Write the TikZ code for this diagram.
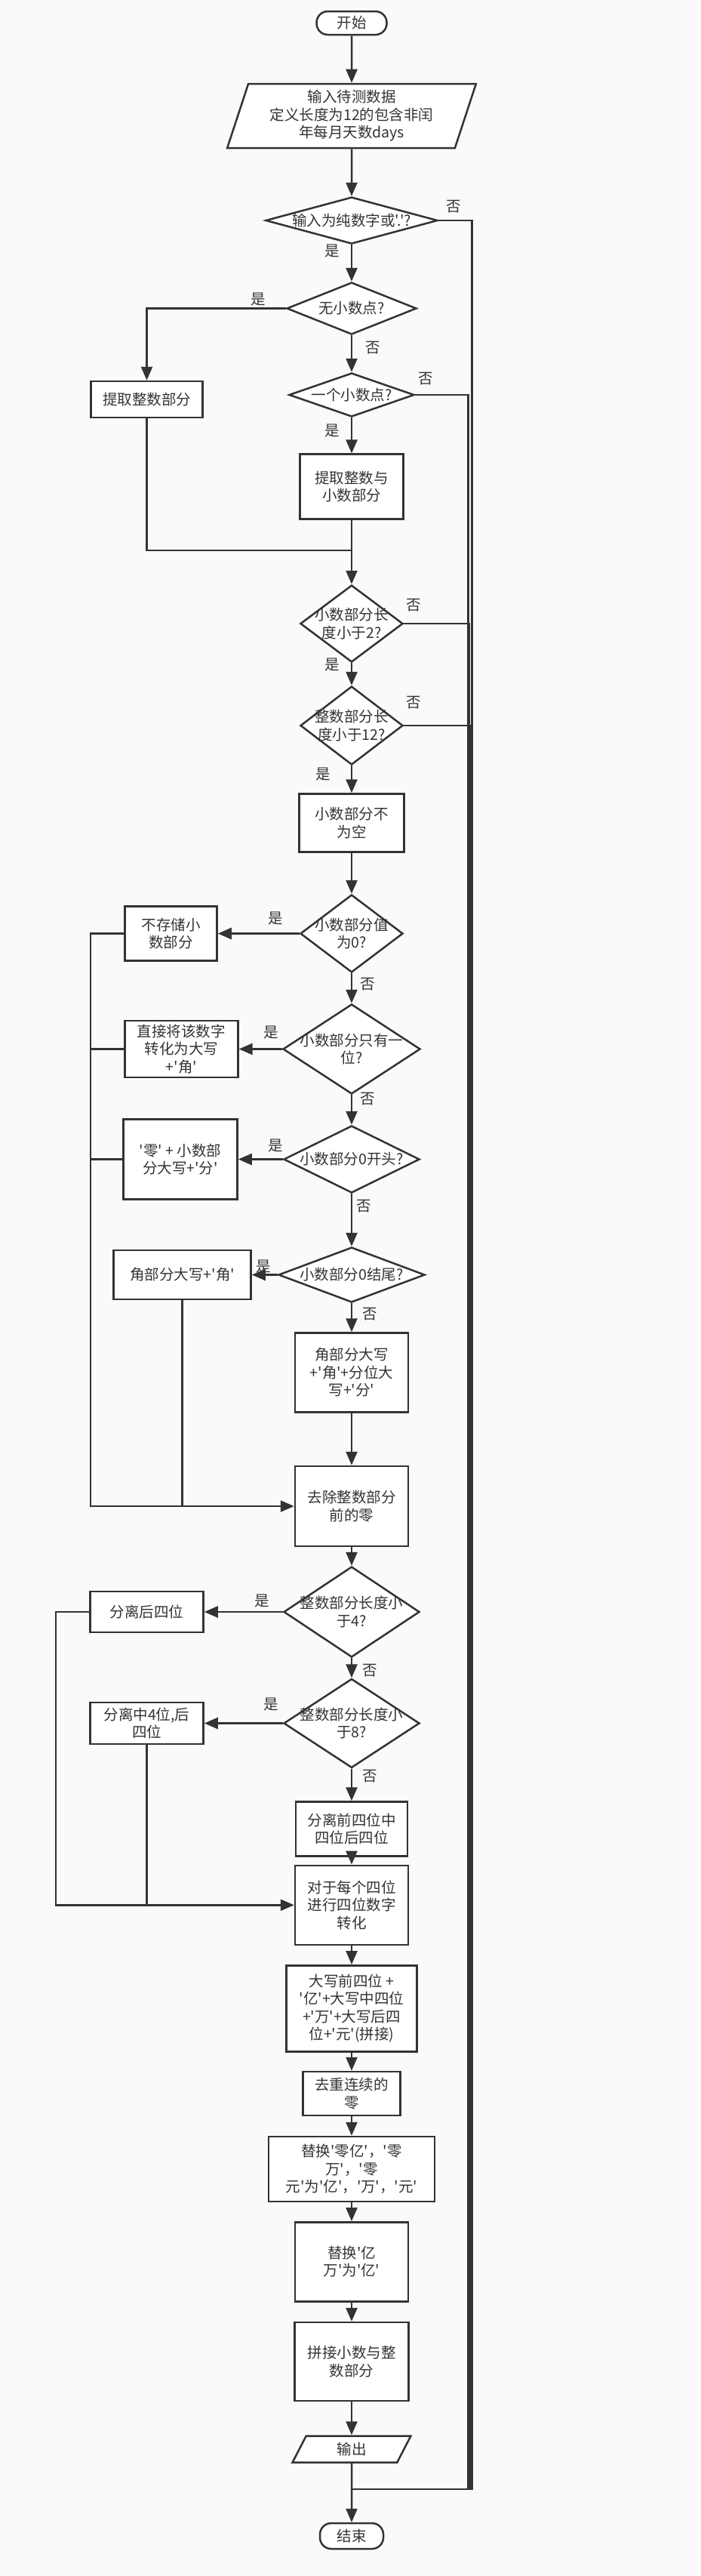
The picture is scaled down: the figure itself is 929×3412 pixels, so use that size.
\documentclass[tikz,border=0pt]{standalone}
\usepackage{fontspec}
\setmainfont{Noto Sans CJK SC}[Ligatures=TeXOff]
\usetikzlibrary{arrows.meta,shapes.geometric}
\definecolor{ink}{HTML}{333333}
\definecolor{paper}{HTML}{FAFAFA}

\begin{document}
\begin{tikzpicture}[x=0.5pt,y=-0.5pt,
    font=\fontsize{9.75pt}{11.75pt}\selectfont, text=ink,
    term/.style={draw=ink,line width=1.25pt,fill=white,rounded corners=7.5pt,inner sep=0pt},
    io/.style={trapezium,trapezium left angle=72,trapezium right angle=108,
               trapezium stretches=true,draw=ink,line width=1.25pt,fill=white,
               align=center,inner sep=0pt},
    box/.style={rectangle,draw=ink,line width=1.25pt,fill=white,align=center,inner sep=0pt},
    ask/.style={diamond,draw=ink,line width=1.25pt,fill=white,inner sep=0pt},
    asktext/.style={align=center,inner sep=0pt},
    lab/.style={inner sep=0pt}]
            \fill[paper] (0,0) rectangle (929,3412);
            \useasboundingbox (0,0) rectangle (929,3412);

            % main column
            \node[term,minimum width=46.5pt,minimum height=15.5pt] (s) at (466,30.5) {开始};
            \node[io,minimum width=165pt,minimum height=42.5pt] (in) at (466,153.5)
                {输入待测数据\\定义长度为12的包含非闰\\年每月天数days};
            \node[ask,minimum width=114pt,minimum height=31pt,
                  label={[asktext]center:{输入为纯数字或'.'?}}] (q1) at (466,292) {};
            \node[ask,minimum width=86pt,minimum height=34.5pt,
                  label={[asktext]center:{无小数点?}}] (q2) at (466,408.5) {};
            \node[ask,minimum width=83pt,minimum height=29pt,
                  label={[asktext]center:{一个小数点?}}] (q3) at (466,523) {};
            \node[box,minimum width=68.5pt,minimum height=43pt] (p2) at (466,644.7) {提取整数与\\小数部分};
            \node[ask,minimum width=68pt,minimum height=51pt,
                  label={[asktext]center:{小数部分长\\度小于2?}}] (q4) at (466,826) {};
            \node[ask,minimum width=68pt,minimum height=52pt,
                  label={[asktext]center:{整数部分长\\度小于12?}}] (q5) at (466,961) {};
            \node[box,minimum width=69.5pt,minimum height=38.5pt] (p3) at (466,1090) {小数部分不\\为空};
            \node[ask,minimum width=68pt,minimum height=51.5pt,
                  label={[asktext]center:{小数部分值\\为0?}}] (q6) at (466,1236.5) {};
            \node[ask,minimum width=91pt,minimum height=59.5pt,
                  label={[asktext]center:{小数部分只有一\\位?}}] (q7) at (466,1389.5) {};
            \node[ask,minimum width=90pt,minimum height=44.5pt,
                  label={[asktext]center:{小数部分0开头?}}] (q8) at (466,1535.5) {};
            \node[ask,minimum width=97pt,minimum height=36.5pt,
                  label={[asktext]center:{小数部分0结尾?}}] (q9) at (466,1688.5) {};
            \node[box,minimum width=75pt,minimum height=52.5pt] (p8) at (466,1818) {角部分大写\\+'角'+分位大\\写+'分'};
            \node[box,minimum width=75pt,minimum height=53pt] (p9) at (466,1995) {去除整数部分\\前的零};
            \node[ask,minimum width=90pt,minimum height=60pt,
                  label={[asktext]center:{整数部分长度小\\于4?}}] (q10) at (466,2135) {};
            \node[ask,minimum width=90pt,minimum height=59pt,
                  label={[asktext]center:{整数部分长度小\\于8?}}] (q11) at (466,2282.5) {};
            \node[box,minimum width=74pt,minimum height=36pt] (p12) at (466,2422.5) {分离前四位中\\四位后四位};
            \node[box,minimum width=75pt,minimum height=52.5pt] (p13) at (466,2523.3) {对于每个四位\\进行四位数字\\转化};
            \node[box,minimum width=86.5pt,minimum height=57pt] (p14) at (466,2660.3)
                {大写前四位 +\\'亿'+大写中四位\\+'万'+大写后四\\位+'元'(拼接)};
            \node[box,minimum width=64.5pt,minimum height=29pt] (p15) at (466,2773) {去重连续的\\零};
            \node[box,minimum width=110pt,minimum height=43pt] (p16) at (466,2873)
                {替换'零亿'，'零\\万'，'零\\元'为'亿'，'万'，'元'};
            \node[box,minimum width=75pt,minimum height=52.5pt] (p17) at (466,2995.8) {替换'亿\\万'为'亿'};
            \node[box,minimum width=75.5pt,minimum height=52pt] (p18) at (466,3128) {拼接小数与整\\数部分};
            \node[io,minimum width=78.5pt,minimum height=17.5pt] (out) at (466,3244) {输出};
            \node[term,minimum width=42pt,minimum height=17pt] (e) at (466,3359) {结束};

            % side boxes
            \node[box,minimum width=74pt,minimum height=24pt] (p1) at (194.5,529) {提取整数部分};
            \node[box,minimum width=61pt,minimum height=36pt] (p4) at (226.5,1236.5) {不存储小\\数部分};
            \node[box,minimum width=75pt,minimum height=37.5pt] (p5) at (240.4,1389.5) {直接将该数字\\转化为大写\\+'角'};
            \node[box,minimum width=75.5pt,minimum height=53pt] (p6) at (239,1535.5) {'零' + 小数部\\分大写+'分'};
            \node[box,minimum width=91pt,minimum height=32.5pt] (p7) at (241.6,1688.5) {角部分大写+'角'};
            \node[box,minimum width=75pt,minimum height=27pt] (p10) at (194.5,2135) {分离后四位};
            \node[box,minimum width=75pt,minimum height=27.5pt] (p11) at (194.5,2282.5) {分离中4位,后\\四位};

            \coordinate (lx) at (120,0);
            \coordinate (lx2) at (74,0);
            \coordinate (j1) at (466,729);
            \coordinate (bar) at (623,3297);
            \coordinate (jb) at (466,3297);

            \begin{scope}[>={Triangle[length=9pt,width=7.5pt]}, ink, line width=1.25pt]
                \draw[->] (s) -- (in);
                \draw[->] (in) -- (q1);
                \draw[->] (q1) -- node[lab,pos=0.18,left=7.6pt] {是} (q2);
                \draw[->] (q2.west) -| node[lab,pos=0.1,above=1pt] {是} (p1.north);
                \draw[->] (q2) -- node[lab,pos=0.33,right=8.4pt] {否} (q3);
                \draw[->] (q3) -- node[lab,pos=0.36,left=7.6pt] {是} (p2);
                \draw (p1.south) |- (j1);
                \draw[->] (p2) -- (q4);
                \draw[->] (q4) -- node[lab,pos=0.06,left=7.6pt] {是} (q5);
                \draw[->] (q5) -- node[lab,pos=0.31,left=13.6pt] {是} (p3);
                \draw[->] (p3) -- (q6);
                \draw[->] (q6) -- node[lab,pos=0.29,above=5pt] {是} (p4);
                \draw[->] (q6) -- node[lab,pos=0.36,right=4.9pt] {否} (q7);
                \draw[->] (q7) -- node[lab,pos=0.25,above=6pt] {是} (p5);
                \draw[->] (q7) -- node[lab,pos=0.14,right=4.9pt] {否} (q8);
                \draw[->] (q8) -- node[lab,pos=0.16,above=4pt] {是} (p6);
                \draw[->] (q8) -- node[lab,pos=0.24,right=2.6pt] {否} (q9);
                \draw[->] (q9) -- node[lab,pos=0.55,above=0.5pt] {是} (p7);
                \draw[->] (q9) -- node[lab,pos=0.37,right=6.4pt] {否} (p8);
                \draw[->] (p8) -- (p9);

                % fraction results back to the integer part
                \draw[->] (p4.west) -| (lx |- p9.west) -- (p9.west);
                \draw (p5.west) -- (lx |- p5.west);
                \draw (p6.west) -- (lx |- p6.west);
                \draw (p7.south) -- (p7.south |- p9.west);

                \draw[->] (p9) -- (q10);
                \draw[->] (q10) -- node[lab,pos=0.26,above=2.2pt] {是} (p10);
                \draw[->] (q10) -- node[lab,pos=0.63,right=6.4pt] {否} (q11);
                \draw[->] (q11) -- node[lab,pos=0.15,above=7.5pt] {是} (p11);
                \draw[->] (q11) -- node[lab,pos=0.23,right=6.4pt] {否} (p12);
                \draw[->] (p12) -- (p13);
                \draw[->] (p10.west) -| (lx2 |- p13.west) -- (p13.west);
                \draw (p11.south) -- (p11.south |- p13.west);

                \draw[->] (p13) -- (p14);
                \draw[->] (p14) -- (p15);
                \draw[->] (p15) -- (p16);
                \draw[->] (p16) -- (p17);
                \draw[->] (p17) -- (p18);
                \draw[->] (p18) -- (out);
                \draw[->] (out) -- (e);

                % invalid input goes straight to the end
                \draw (q1.east) -| node[lab,pos=0.23,above=4.5pt] {否} ([xshift=1.25pt]bar) -- (jb);
                \draw (q3.east) -| node[lab,pos=0.1,above=5.7pt] {否} ([xshift=-1.25pt]bar) -- (jb);
                \draw (q4.east) -| node[lab,pos=0.074,above=7.2pt] {否} ([xshift=-0.5pt]bar) -- (jb);
                \draw (q5.east) -| node[lab,pos=0.073,above=10.2pt] {否} ([xshift=0.25pt]bar) -- (jb);
            \end{scope}
\end{tikzpicture}
\end{document}
